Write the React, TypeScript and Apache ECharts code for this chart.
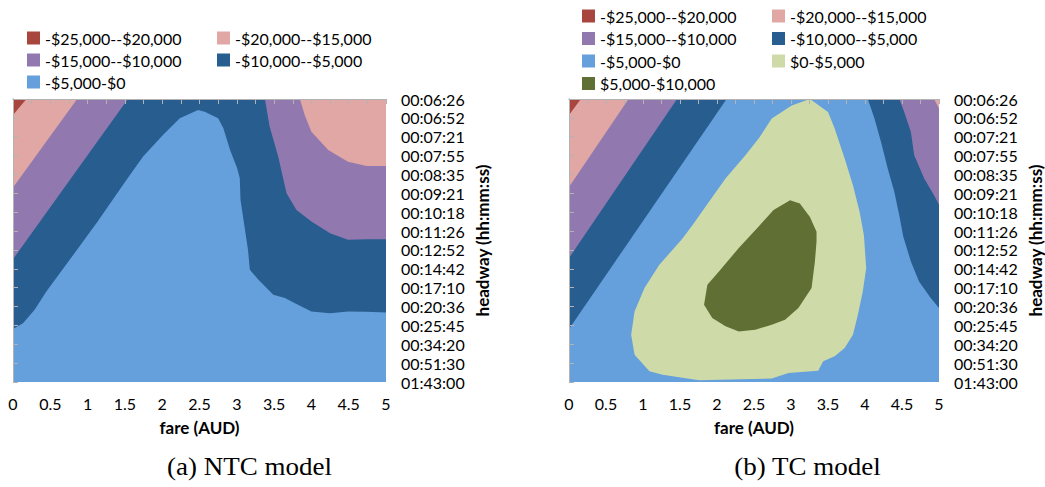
import { useEffect, useRef } from "react";
import * as echarts from "echarts";

// Headway levels shown on the vertical axis (index 0 at the top)
const headwayLabels = [
  "00:06:26", "00:06:52", "00:07:21", "00:07:55", "00:08:35", "00:09:21",
  "00:10:18", "00:11:26", "00:12:52", "00:14:42", "00:17:10", "00:20:36",
  "00:25:45", "00:34:20", "00:51:30", "01:43:00",
];

// Profit bands
const levelNames = [
  "-$25,000--$20,000",
  "-$20,000--$15,000",
  "-$15,000--$10,000",
  "-$10,000--$5,000",
  "-$5,000-$0",
  "$0-$5,000",
  "$5,000-$10,000",
];
const levelColors = ["#A8453F", "#E0A7A4", "#9179B0", "#275D8F", "#65A0DC", "#CEDBA9", "#607034"];

// Whole fare x headway domain: [fare, headway index]
const fullDomain = [[0, 0], [5, 0], [5, 15], [0, 15]];

// ---- NTC model: contour regions, [fare (AUD), headway index] ----
const ntcRed = [[0, 0], [0.18, 0], [0, 0.85]];
const ntcPinkLeft = [[0, 0], [0.86, 0], [0, 4.69]];
const ntcPurpleLeft = [[0, 0], [1.54, 0], [0, 8.49]];
// -$5,000 contour, from the left edge over the ridge to the right edge
const ntcMinus5k = [
  [0, 12.19], [0.134, 11.88], [0.29, 11.17], [0.447, 10.2], [0.76, 8.52],
  [1.118, 6.58], [1.52, 4.29], [1.744, 3.05], [2.01, 1.91], [2.236, 1.02],
  [2.48, 0.58], [2.57, 0.67], [2.75, 1.02], [2.82, 1.55], [2.91, 2.7],
  [3.005, 3.67], [3.04, 4.2], [3.05, 5.35], [3.11, 6.93], [3.15, 7.99],
  [3.175, 9.05], [3.29, 9.58], [3.49, 10.38], [3.645, 10.55], [3.78, 10.82],
  [4.0, 11.26], [4.25, 11.35], [4.49, 11.26], [4.74, 11.28], [5, 11.31],
];
// -$10,000 contour on the high-fare side
const ntcMinus10kRight = [
  [3.377, 0], [3.44, 1.46], [3.555, 3.05], [3.667, 4.99], [3.8, 5.88],
  [4.0, 6.49], [4.25, 7.11], [4.49, 7.46], [4.74, 7.43], [5, 7.43],
];
// -$15,000 contour on the high-fare side
const ntcMinus15kRight = [
  [3.846, 0], [3.91, 0.85], [4.0, 1.73], [4.226, 2.7], [4.49, 3.32],
  [4.74, 3.55], [5, 3.55],
];

// ---- TC model: contour regions ----
const tcRed = [[0, 0], [0.16, 0], [0, 0.85]];
const tcPinkLeft = [[0, 0], [0.805, 0], [0, 4.66]];
const tcPurpleLeft = [[0, 0], [1.46, 0], [0, 8.43]];
const tcDarkBlueLeft = [[0, 0], [2.13, 0], [0, 12.19]];
// $0 contour (closed loop)
const tcZero = [
  [3.256, 0], [3.5, 0.69], [3.59, 1.57], [3.725, 3.16], [3.837, 4.57],
  [3.927, 5.98], [3.985, 7.22], [4.016, 8.96], [3.97, 10.2], [3.904, 11.43],
  [3.837, 12.49], [3.725, 13.2], [3.59, 13.64], [3.435, 13.9], [3.367, 14.4],
  [2.965, 14.52], [2.74, 14.82], [2.473, 14.84], [1.758, 14.91], [1.266, 14.61],
  [1.087, 14.43], [0.886, 13.55], [0.84, 12.49], [0.886, 11.26], [1.02, 10.02],
  [1.221, 8.79], [1.534, 7.39], [1.668, 6.69], [1.892, 5.45], [2.115, 4.22],
  [2.384, 2.98], [2.563, 2.1], [2.74, 1.04], [3.01, 0.34],
];
// $5,000 contour (closed loop)
const tcPlus5k = [
  [2.987, 5.36], [3.12, 5.54], [3.256, 6.25], [3.345, 7.04], [3.345, 7.57],
  [3.323, 8.61], [3.278, 10.02], [3.1, 11.08], [2.92, 11.7], [2.74, 11.96],
  [2.518, 12.23], [2.294, 12.32], [2.115, 12.05], [1.936, 11.61], [1.825, 10.9],
  [1.87, 9.85], [2.026, 9.14], [2.294, 7.9], [2.563, 6.76], [2.764, 5.88],
];
// -$5,000 contour on the high-fare side
const tcMinus5kRight = [
  [4.038, 0], [4.128, 1.04], [4.217, 2.28], [4.307, 3.69], [4.396, 4.92],
  [4.463, 6.16], [4.517, 7.29], [4.62, 8.61], [4.73, 9.67], [4.888, 10.55],
  [5, 11.08],
];
// -$10,000 contour on the high-fare side
const tcMinus10kRight = [
  [4.463, 0], [4.53, 0.69], [4.62, 1.75], [4.665, 2.98], [4.8, 4.22],
  [4.933, 5.1], [5, 5.6],
];
// -$15,000 contour on the high-fare side
const tcMinus15kRight = [[4.933, 0], [5, 0.51]];

const topRight = [5, 0];

type Pt = number[];

function region(level: number, pts: Pt[], panel: number) {
  return {
    type: "custom",
    name: levelNames[level],
    xAxisIndex: panel,
    yAxisIndex: panel,
    coordinateSystem: "cartesian2d",
    itemStyle: { color: levelColors[level] },
    encode: { x: 0, y: 1 },
    data: pts,
    silent: true,
    renderItem: (params: any, api: any) => {
      if (params.dataIndexInside !== 0) return null;
      return {
        type: "polygon",
        shape: { points: pts.map((p) => api.coord(p)) },
        style: { fill: levelColors[level], stroke: null },
      };
    },
  };
}

const series: any[] = [
  // NTC panel, painted from the lowest band upward
  region(4, fullDomain, 0),
  region(3, [...ntcMinus5k, topRight, [0, 0]], 0),
  region(2, ntcPurpleLeft, 0),
  region(2, [...ntcMinus10kRight, topRight], 0),
  region(1, ntcPinkLeft, 0),
  region(1, [...ntcMinus15kRight, topRight], 0),
  region(0, ntcRed, 0),
  // TC panel
  region(4, fullDomain, 1),
  region(5, tcZero, 1),
  region(6, tcPlus5k, 1),
  region(3, tcDarkBlueLeft, 1),
  region(3, [...tcMinus5kRight, topRight], 1),
  region(2, tcPurpleLeft, 1),
  region(2, [...tcMinus10kRight, topRight], 1),
  region(1, tcPinkLeft, 1),
  region(1, [...tcMinus15kRight, topRight], 1),
  region(0, tcRed, 1),
];

const FONT = "Lato";
const AXIS_GREY = "#B3B3B3";

function fareAxis(grid: number) {
  return {
    type: "value",
    gridIndex: grid,
    position: "bottom",
    min: 0,
    max: 5,
    interval: 0.25,
    z: 10,
    axisLine: { show: true, lineStyle: { color: AXIS_GREY, width: 1 } },
    axisTick: { show: true, length: 5, lineStyle: { color: AXIS_GREY } },
    splitLine: { show: false },
    axisLabel: {
      margin: 13,
      color: "#000",
      fontFamily: FONT,
      fontSize: 16,
      formatter: (v: number) => (Math.abs(v * 2 - Math.round(v * 2)) < 1e-6 ? String(v) : ""),
    },
    name: "fare (AUD)",
    nameLocation: "middle",
    nameGap: 37,
    nameTextStyle: { color: "#000", fontFamily: FONT, fontSize: 17, fontWeight: "bold" },
  };
}

function headwayAxis(grid: number) {
  return {
    type: "value",
    gridIndex: grid,
    position: "right",
    inverse: true,
    min: 0,
    max: 15,
    interval: 1,
    z: 10,
    axisLine: { show: true, lineStyle: { color: AXIS_GREY, width: 1 } },
    axisTick: { show: true, length: 5, lineStyle: { color: AXIS_GREY } },
    splitLine: { show: false },
    axisLabel: {
      margin: 15,
      color: "#000",
      fontFamily: FONT,
      fontSize: 16,
      formatter: (v: number) => headwayLabels[Math.round(v)] ?? "",
    },
    name: "headway (hh:mm:ss)",
    nameLocation: "middle",
    nameRotate: 90,
    nameGap: 88,
    nameTextStyle: { color: "#000", fontFamily: FONT, fontSize: 17, fontWeight: "bold" },
  };
}

function frameX(grid: number) {
  return {
    type: "value", gridIndex: grid, position: "top", min: 0, max: 5, z: 10,
    axisLine: { show: true, onZero: false, lineStyle: { color: AXIS_GREY, width: 1 } },
    axisTick: { show: false }, axisLabel: { show: false }, splitLine: { show: false },
  };
}

function frameY(grid: number) {
  return {
    type: "value", gridIndex: grid, position: "left", min: 0, max: 15, z: 10,
    axisLine: { show: true, onZero: false, lineStyle: { color: AXIS_GREY, width: 1 } },
    axisTick: { show: false }, axisLabel: { show: false }, splitLine: { show: false },
  };
}

function legendColumn(left: number, top: number, gap: number, names: string[]) {
  return {
    orient: "vertical",
    left,
    top,
    padding: 0,
    itemGap: gap,
    itemWidth: 13,
    itemHeight: 13,
    icon: "rect",
    selectedMode: false,
    data: names,
    textStyle: { color: "#000", fontFamily: FONT, fontSize: 16, lineHeight: 16 },
  };
}

export default function App() {
  const ref = useRef<HTMLDivElement>(null);

  useEffect(() => {
    if (!ref.current) return;
    const chart = echarts.init(ref.current, null, { renderer: "svg" });
    chart.setOption({
      animation: false,
      grid: [
        { left: 13, top: 99, width: 373, height: 283 },
        { left: 569, top: 99, width: 373, height: 283 },
      ],
      xAxis: [fareAxis(0), fareAxis(1), frameX(0), frameX(1)],
      yAxis: [headwayAxis(0), headwayAxis(1), frameY(0), frameY(1)],
      legend: [
        legendColumn(27, 30, 6, [levelNames[0], levelNames[2], levelNames[4]]),
        legendColumn(217, 30, 6, [levelNames[1], levelNames[3]]),
        legendColumn(582, 8, 6.5, [levelNames[0], levelNames[2], levelNames[4], levelNames[6]]),
        legendColumn(772, 8, 6.5, [levelNames[1], levelNames[3], levelNames[5]]),
      ],
      graphic: [
        {
          type: "text",
          x: 249.5,
          y: 467,
          scaleX: 1.08,
          style: {
            text: "(a) NTC model",
            fill: "#000",
            font: "25px 'Liberation Serif'",
            textAlign: "center",
            textVerticalAlign: "middle",
          },
        },
        {
          type: "text",
          x: 807.5,
          y: 467,
          scaleX: 1.08,
          style: {
            text: "(b) TC model",
            fill: "#000",
            font: "25px 'Liberation Serif'",
            textAlign: "center",
            textVerticalAlign: "middle",
          },
        },
      ],
      series,
    });
    return () => chart.dispose();
  }, []);

  return (
    <div
      ref={ref}
      style={{ position: "fixed", left: 0, top: 0, width: 1045, height: 487, background: "#fff" }}
    />
  );
}
